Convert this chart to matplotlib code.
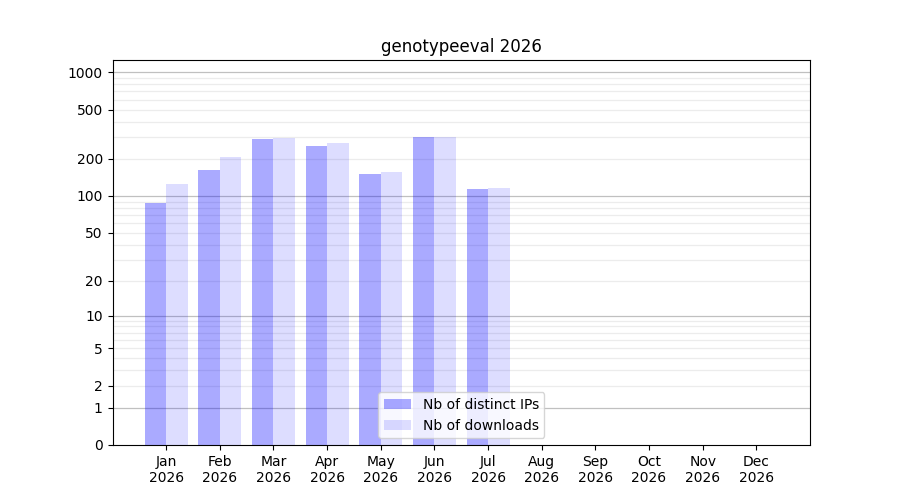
import numpy as np
import matplotlib
matplotlib.use("Agg")
import matplotlib.pyplot as plt

months = ["Jan", "Feb", "Mar", "Apr", "May", "Jun", "Jul", "Aug", "Sep", "Oct", "Nov", "Dec"]
year = "2026"
distinct_ips = [87, 164, 287, 252, 152, 299, 115, 0, 0, 0, 0, 0]
downloads = [124, 206, 293, 271, 158, 299, 117, 0, 0, 0, 0, 0]
ytick_vals = [0, 1, 2, 5, 10, 20, 50, 100, 200, 500, 1000]

fig = plt.figure(figsize=(9, 5), dpi=100)
ax = fig.add_subplot(111)

fwd = lambda v: np.log10(1 + np.asarray(v, dtype=float).clip(min=0))
inv = lambda y: 10 ** np.asarray(y, dtype=float) - 1
ax.set_yscale("function", functions=(fwd, inv))

x = np.arange(len(months))
ax.bar(x - 0.2, distinct_ips, width=0.4, color="blue", alpha=1/3, label="Nb of distinct IPs", zorder=2)
ax.bar(x + 0.2, downloads, width=0.4, color="blue", alpha=0.135, label="Nb of downloads", zorder=2)

# gridlines
major = [1, 10, 100, 1000]
minor = [m * d for d in (1, 10, 100) for m in range(2, 10)]
for v in major:
    ax.axhline(v, color="#c0c0c0", lw=0.9, zorder=1)
for v in minor:
    ax.axhline(v, color="#ececec", lw=0.9, zorder=1)

ax.set_ylim(0, 1255)
ax.set_xlim(-1, 12)
ax.set_yticks(ytick_vals)
ax.set_yticklabels([str(v) for v in ytick_vals])
ax.yaxis.set_minor_locator(matplotlib.ticker.NullLocator())
ax.set_xticks(x)
ax.set_xticklabels([f"{m}\n{year}" for m in months])
ax.set_title("genotypeeval 2026")
ax.legend(loc="lower center")

fig.savefig("out.png", dpi=100)
